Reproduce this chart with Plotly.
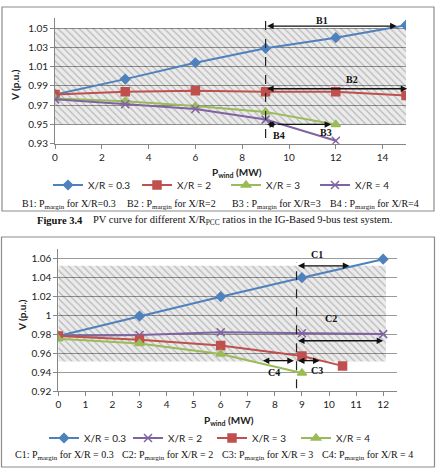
import plotly.graph_objects as go

W, H = 437, 469

# ---------------- Data: Figure 3.4 (top chart) ----------------
x_top = [0, 3, 6, 9, 12, 15]
v_top_03 = [0.981, 0.997, 1.014, 1.029, 1.040, 1.053]
v_top_2 = [0.981, 0.984, 0.985, 0.984, 0.984, 0.980]
x_top_short = [0, 3, 6, 9, 12]
v_top_3 = [0.977, 0.974, 0.969, 0.963, 0.950]
v_top_4 = [0.976, 0.971, 0.966, 0.955, 0.933]
top_names = ["X/R = 0.3", "X/R = 2", "X/R = 3", "X/R = 4"]
top_margin_x = 9
top_band = [0.95, 1.05]
top_band_x = [0, 15]

# ---------------- Data: bottom chart ----------------
x_bot = [0, 3, 6, 9, 12]
v_bot_03 = [0.978, 0.999, 1.0195, 1.0395, 1.059]
v_bot_2 = [0.978, 0.979, 0.982, 0.981, 0.980]
x_bot_3 = [0, 3, 6, 9, 10.5]
v_bot_3 = [0.978, 0.974, 0.968, 0.957, 0.9465]
x_bot_4 = [0, 3, 6, 9]
v_bot_4 = [0.975, 0.970, 0.959, 0.939]
bot_names = ["X/R = 0.3", "X/R = 2", "X/R = 3", "X/R = 4"]
bot_margin_x = 8.8
bot_band = [0.951, 1.052]
bot_band_x = [0, 12.1]

BLUE, RED, GREEN, PURPLE = "#4F81BD", "#C0504D", "#9BBB59", "#8064A2"

def px_x(p):
    return p / W

def px_y(p):
    return 1 - p / H

fig = go.Figure()

def hatch(xs, ys, xa, ya):
    fig.add_trace(go.Scatter(
        x=[xs[0], xs[1], xs[1], xs[0], xs[0]],
        y=[ys[0], ys[0], ys[1], ys[1], ys[0]],
        mode="lines", line=dict(width=0), fill="toself",
        fillcolor="rgba(0,0,0,0.06)",
        fillpattern=dict(shape="\\", fgcolor="rgba(0,0,0,0.42)",
                         bgcolor="rgba(0,0,0,0.08)", size=5, solidity=0.25),
        hoverinfo="skip", showlegend=False, xaxis=xa, yaxis=ya))

hatch(top_band_x, top_band, "x", "y")
hatch(bot_band_x, bot_band, "x2", "y2")

def series(x, y, name, color, symbol, size, xa, ya, legend):
    fig.add_trace(go.Scatter(
        x=x, y=y, name=name, mode="lines+markers",
        line=dict(color=color, width=2),
        marker=dict(symbol=symbol, size=size, color=color,
                    line=dict(color=color, width=1.5)),
        xaxis=xa, yaxis=ya, legend=legend))

series(x_top, v_top_03, top_names[0], BLUE, "diamond", 7, "x", "y", "legend")
series(x_top, v_top_2, top_names[1], RED, "square", 8, "x", "y", "legend")
series(x_top_short, v_top_3, top_names[2], GREEN, "triangle-up", 8, "x", "y", "legend")
series(x_top_short, v_top_4, top_names[3], PURPLE, "x-thin", 8, "x", "y", "legend")

series(x_bot, v_bot_03, bot_names[0], BLUE, "diamond", 7, "x2", "y2", "legend2")
series(x_bot, v_bot_2, bot_names[1], PURPLE, "x-thin", 8, "x2", "y2", "legend2")
series(x_bot_3, v_bot_3, bot_names[2], RED, "square", 8, "x2", "y2", "legend2")
series(x_bot_4, v_bot_4, bot_names[3], GREEN, "triangle-up", 8, "x2", "y2", "legend2")

tickfont = dict(family="Lato", size=10, color="#222")
axcommon = dict(showline=True, linecolor="#868686", linewidth=1, ticks="outside",
                ticklen=4, tickcolor="#868686", tickfont=tickfont, zeroline=False,
                automargin=False)

fig.update_layout(
    width=W, height=H, margin=dict(l=0, r=0, t=0, b=0),
    paper_bgcolor="white", plot_bgcolor="white",
    xaxis=dict(domain=[px_x(55), px_x(406)], range=[0, 15], dtick=2, tick0=0,
               showgrid=False, anchor="y", **axcommon),
    yaxis=dict(domain=[px_y(143.7), px_y(18.4)], range=[0.93, 1.06], tick0=0.93, dtick=0.02,
               tickformat=".2f", showgrid=True, gridcolor="#9a9a9a", gridwidth=1, anchor="x",
               **axcommon),
    xaxis2=dict(domain=[px_x(58.3), px_x(396.7)], range=[0, 12.5], dtick=1, tick0=0,
                showgrid=False, anchor="y2", **axcommon),
    yaxis2=dict(domain=[px_y(391), px_y(248.8)], range=[0.92, 1.07],
                showgrid=True, gridcolor="#9a9a9a", gridwidth=1, anchor="x2",
                tickvals=[0.92, 0.94, 0.96, 0.98, 1.0, 1.02, 1.04, 1.06],
                ticktext=["0.92", "0.94", "0.96", "0.98", "1", "1.02", "1.04", "1.06"],
                **axcommon),
    legend=dict(orientation="h", x=px_x(48), y=px_y(185), xanchor="left", yanchor="middle",
                entrywidth=44, entrywidthmode="pixels", font=dict(family="Lato", size=10, color="#222"),
                bgcolor="rgba(0,0,0,0)", traceorder="normal", itemclick=False),
    legend2=dict(orientation="h", x=px_x(44), y=px_y(438), xanchor="left", yanchor="middle",
                 entrywidth=39, entrywidthmode="pixels", font=dict(family="Lato", size=10, color="#222"),
                 bgcolor="rgba(0,0,0,0)", traceorder="normal", itemclick=False),
    showlegend=True,
)

shapes = []
shapes.append(dict(type="rect", xref="paper", yref="paper", x0=px_x(2), x1=px_x(434),
                   y0=px_y(211), y1=px_y(7), line=dict(color="#8c8c8c", width=1.2)))
shapes.append(dict(type="rect", xref="paper", yref="paper", x0=px_x(1.5), x1=px_x(434.5),
                   y0=px_y(467), y1=px_y(237), line=dict(color="#8c8c8c", width=1.2)))
shapes.append(dict(type="line", xref="x", yref="y", x0=top_margin_x, x1=top_margin_x,
                   y0=0.936, y1=1.06, line=dict(color="#222", width=1.2, dash="dash")))
shapes.append(dict(type="line", xref="x2", yref="y2", x0=bot_margin_x, x1=bot_margin_x,
                   y0=0.923, y1=1.056, line=dict(color="#222", width=1.2, dash="dash")))
fig.update_layout(shapes=shapes)

ann = []

def arrow(xa, ya, x0, x1, y, side="end+start"):
    ann.append(dict(xref=xa, yref=ya, axref=xa, ayref=ya, x=x1, y=y, ax=x0, ay=y,
                    text="", showarrow=True, arrowhead=2, arrowsize=1, arrowwidth=1.3,
                    arrowcolor="#111", arrowside=side, startarrowhead=2, startarrowsize=1))

def label(xa, ya, x, y, t):
    ann.append(dict(xref=xa, yref=ya, x=x, y=y, text="<b>" + t + "</b>", showarrow=False,
                    font=dict(family="Liberation Serif", size=10, color="#111")))

arrow("x", "y", top_margin_x, 14.6, 1.052)
label("x", "y", 11.4, 1.058, "B1")
arrow("x", "y", top_margin_x, 15.05, 0.987)
label("x", "y", 12.7, 0.9965, "B2")
arrow("x", "y", top_margin_x, 9.45, 0.950)
arrow("x", "y", 9.45, 11.8, 0.950, side="end")
label("x", "y", 11.6, 0.9415, "B3")
label("x", "y", 9.56, 0.9385, "B4")

arrow("x2", "y2", bot_margin_x, 10.75, 1.052)
label("x2", "y2", 9.55, 1.0635, "C1")
arrow("x2", "y2", bot_margin_x, 12.0, 0.973)
label("x2", "y2", 10.07, 0.996, "C2")
arrow("x2", "y2", bot_margin_x, 9.65, 0.952)
label("x2", "y2", 9.55, 0.942, "C3")
arrow("x2", "y2", 7.5, 8.7, 0.952)
label("x2", "y2", 7.96, 0.9395, "C4")

serif = dict(family="Liberation Serif", size=10, color="#111")
sans_b = dict(family="Lato", size=10, color="#222")

def ptext(xp, yp, t, font=serif, anchor="left", angle=0):
    ann.append(dict(xref="paper", yref="paper", x=px_x(xp), y=px_y(yp), text=t,
                    showarrow=False, xanchor=anchor, yanchor="middle", font=font,
                    textangle=angle))

ptext(237, 172, "<b>P<sub>wind</sub> (MW)</b>", font=sans_b, anchor="center")
ptext(15, 85, "<b>V (p.u.)</b>", font=sans_b, anchor="center", angle=-90)
ptext(229, 420, "<b>P<sub>wind</sub> (MW)</b>", font=sans_b, anchor="center")
ptext(22, 315, "<b>V (p.u.)</b>", font=sans_b, anchor="center", angle=-90)

b_parts = ["B1: P<sub>margin</sub> for X/R=0.3", "B2 : P<sub>margin</sub> for X/R=2",
           "B3 : P<sub>margin</sub> for X/R=3", "B4 : P<sub>margin</sub> for X/R=4"]
b_x = [20, 125, 230, 328]
for xp, t in zip(b_x, b_parts):
    ptext(xp, 204, t)

c_parts = ["C1: P<sub>margin</sub> for X/R = 0.3", "C2: P<sub>margin</sub> for X/R = 2",
           "C3: P<sub>margin</sub> for X/R = 3", "C4: P<sub>margin</sub> for X/R = 4"]
c_x = [13, 120, 220, 320]
for xp, t in zip(c_x, c_parts):
    ptext(xp, 455.5, t)

ptext(35, 220, "<b>Figure 3.4</b>", font=dict(family="Liberation Serif", size=10.5, color="#111"))
ptext(91, 220, "PV curve for different X/R<sub>PCC</sub> ratios in the IG-Based 9-bus test system.",
      font=dict(family="Liberation Serif", size=10.5, color="#111"))

fig.update_layout(annotations=ann)

fig.write_html("out.html")
